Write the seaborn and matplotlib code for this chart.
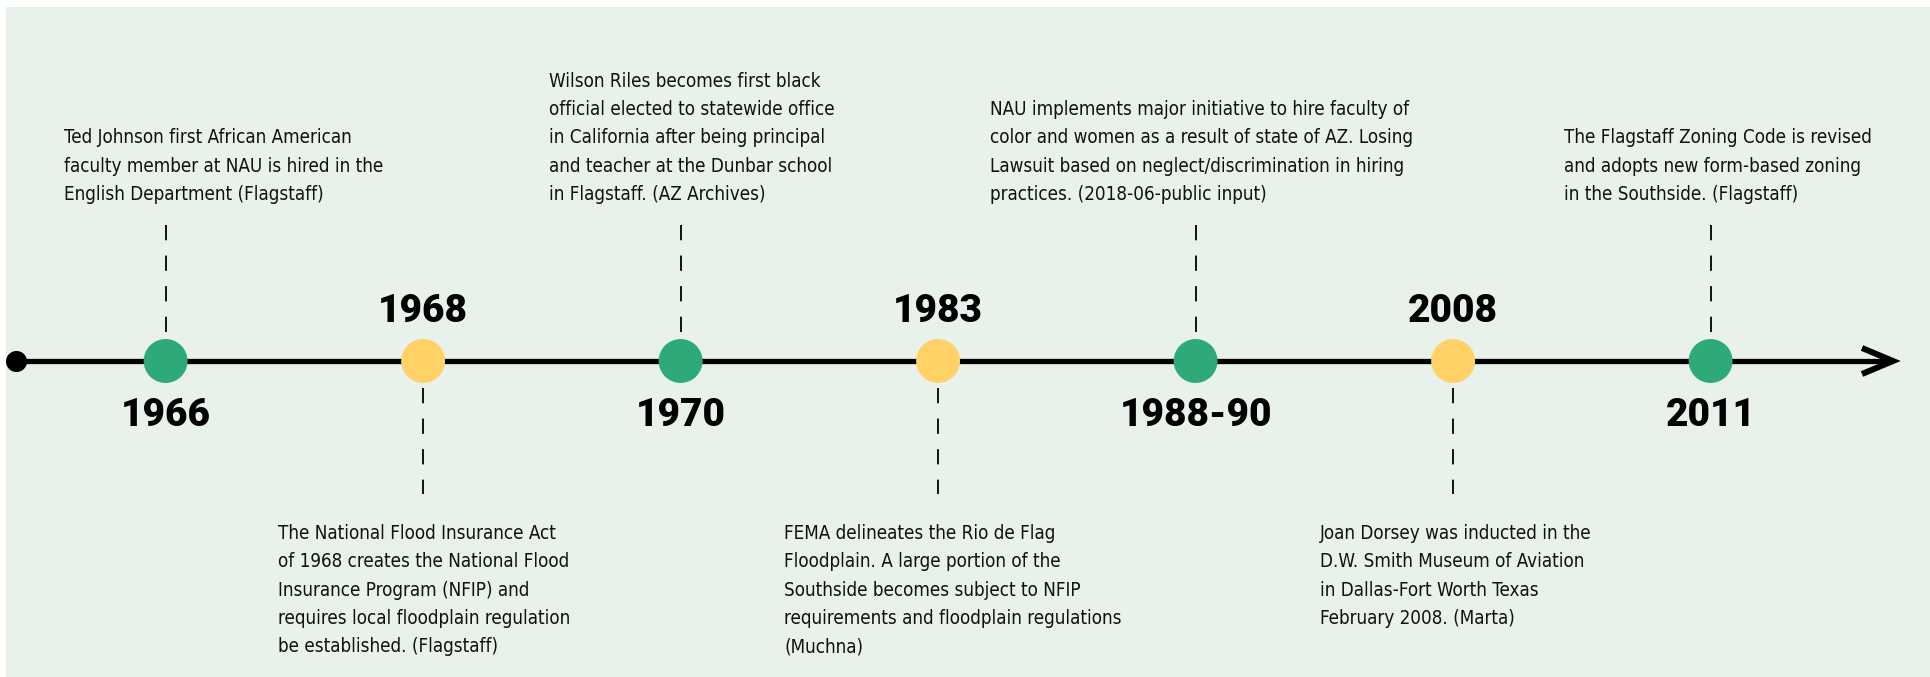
import matplotlib
matplotlib.use('Agg')
import matplotlib.pyplot as plt
from matplotlib import font_manager
from matplotlib.patches import Rectangle
import pandas as pd
import seaborn as sns

# Datos de la línea de tiempo
years = ['1966', '1968', '1970', '1983', '1988-90', '2008', '2011']
groups = ['verde', 'amarillo', 'verde', 'amarillo', 'verde', 'amarillo', 'verde']
events = [
    'Ted Johnson first African American\nfaculty member at NAU is hired in the\nEnglish Department (Flagstaff)',
    'The National Flood Insurance Act\nof 1968 creates the National Flood\nInsurance Program (NFIP) and\nrequires local floodplain regulation\nbe established. (Flagstaff)',
    'Wilson Riles becomes first black\nofficial elected to statewide office\nin California after being principal\nand teacher at the Dunbar school\nin Flagstaff. (AZ Archives)',
    'FEMA delineates the Rio de Flag\nFloodplain. A large portion of the\nSouthside becomes subject to NFIP\nrequirements and floodplain regulations\n(Muchna)',
    'NAU implements major initiative to hire faculty of\ncolor and women as a result of state of AZ. Losing\nLawsuit based on neglect/discrimination in hiring\npractices. (2018-06-public input)',
    'Joan Dorsey was inducted in the\nD.W. Smith Museum of Aviation\nin Dallas-Fort Worth Texas\nFebruary 2008. (Marta)',
    'The Flagstaff Zoning Code is revised\nand adopts new form-based zoning\nin the Southside. (Flagstaff)',
]

# Maquetación (pixeles)
text_dx = [-102, -145, -132, -154, -206, -133, -147]
palette = {'verde': '#2EAA78', 'amarillo': '#FFD166'}
bg = '#E8F2EA'
W, H, DPI = 1931, 677, 100
x0_px, step_px, line_px = 165.6, 257.5, 361

# Elegimos una fuente estrecha si existe
names = {f.name for f in font_manager.fontManager.ttflist}
condensed = [f for f in font_manager.fontManager.ttflist
             if f.name == 'DejaVu Sans' and f.stretch in ('condensed', 'semi-condensed')]
if 'Liberation Sans Narrow' in names:
    body_font = dict(family='Liberation Sans Narrow', size=16.5)
    spacing = 1.3
elif condensed:
    body_font = dict(family='DejaVu Sans', stretch='condensed', size=13.5)
    spacing = 1.62
else:
    body_font = dict(family='Roboto', size=13)
    spacing = 1.6
year_font = dict(family='Roboto', weight='black', size=28)

df = pd.DataFrame({'x': range(len(years)), 'y': 0, 'grupo': groups})

sns.set_style('white')
plt.rcParams['lines.scale_dashes'] = False
fig = plt.figure(figsize=(W / DPI, H / DPI), dpi=DPI, facecolor='white')
fig.patches.append(Rectangle((6 / W, 0), 1, 1 - 7 / H, transform=fig.transFigure,
                             facecolor=bg, edgecolor='none', zorder=-5))
ax = fig.add_axes([0, 0, 1, 1])
ax.set_facecolor('none')
ax.set_xlim(-x0_px / step_px, (W - x0_px) / step_px)
ax.set_ylim(-(H - line_px), line_px)
ax.axis('off')


def px2x(px):
    return (px - x0_px) / step_px


# Línea principal con punto inicial y flecha
ax.plot([px2x(16), px2x(1893)], [0, 0], color='black', lw=3.8, zorder=1,
        solid_capstyle='butt')
ax.scatter([px2x(16)], [0], s=200, color='black', zorder=2)
ax.plot([px2x(1862), px2x(1893), px2x(1862)], [13, 0, -13], color='black',
        lw=4.3, solid_joinstyle='miter', solid_capstyle='butt', zorder=1)

sns.scatterplot(data=df, x='x', y='y', hue='grupo', palette=palette, s=1000,
                linewidth=0, legend=False, ax=ax, zorder=3)

for i, (yr, g, txt) in enumerate(zip(years, groups, events)):
    up = g == 'verde'  # texto arriba, año abajo
    if up:
        ax.plot([i, i], [136, 29], color='#111111', lw=1.4,
                linestyle=(0, (11, 11)), zorder=1)
    else:
        ax.plot([i, i], [-27, -133], color='#111111', lw=1.4,
                linestyle=(0, (11, 11)), zorder=1)
    ax.annotate(yr, xy=(i, 0), xytext=(0, -55 if up else 49),
                textcoords='offset pixels', ha='center', va='center',
                color='black', **year_font)
    ax.annotate(txt, xy=(i, 0), xytext=(text_dx[i], 157 if up else -163),
                textcoords='offset pixels', ha='left',
                va='bottom' if up else 'top', color='#111111',
                linespacing=spacing, **body_font)

fig.savefig('out.png', dpi=DPI, facecolor='white')
